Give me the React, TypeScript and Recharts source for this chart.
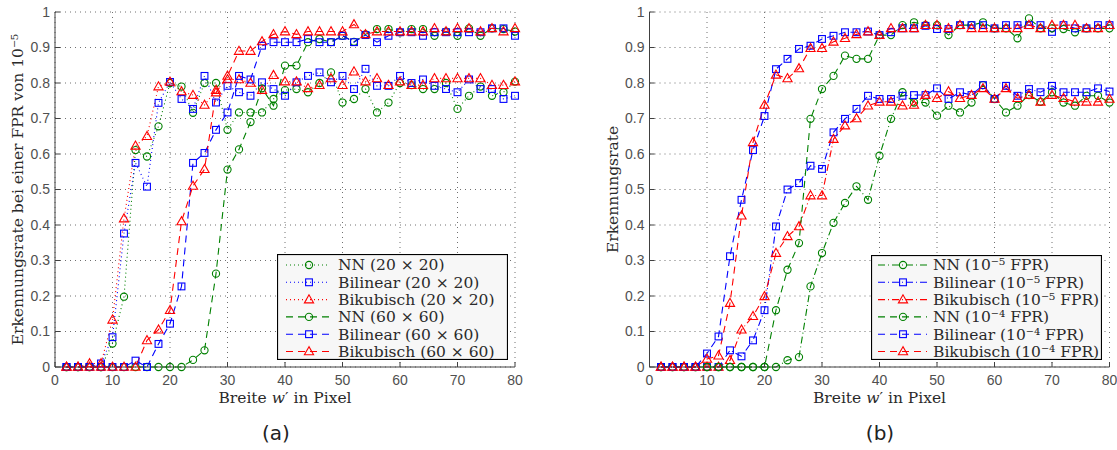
import React from 'react';
import { LineChart, Line, XAxis, YAxis, CartesianGrid, Legend } from 'recharts';

const xValues = [2, 4, 6, 8, 10, 12, 14, 16, 18, 20, 22, 24, 26, 28, 30, 32, 34, 36, 38, 40, 42, 44, 46, 48, 50, 52, 54, 56, 58, 60, 62, 64, 66, 68, 70, 72, 74, 76, 78, 80];
const xTicks = [0, 10, 20, 30, 40, 50, 60, 70, 80];
const yTicks = [0, 0.1, 0.2, 0.3, 0.4, 0.5, 0.6, 0.7, 0.8, 0.9, 1];

// Panel (a)
const aNN20 = [0, 0, 0, 0, 0.066, 0.198, 0.611, 0.593, 0.678, 0.80, 0.79, 0.716, 0.80, 0.80, 0.668, 0.717, 0.717, 0.717, 0.755, 0.78, 0.783, 0.774, 0.80, 0.83, 0.745, 0.755, 0.783, 0.717, 0.745, 0.80, 0.794, 0.783, 0.783, 0.80, 0.727, 0.764, 0.79, 0.764, 0.774, 0.804];
const aBi20 = [0, 0, 0, 0.01, 0.084, 0.376, 0.575, 0.508, 0.744, 0.803, 0.755, 0.727, 0.82, 0.745, 0.792, 0.774, 0.764, 0.802, 0.783, 0.764, 0.802, 0.82, 0.83, 0.802, 0.82, 0.783, 0.84, 0.792, 0.792, 0.82, 0.80, 0.81, 0.792, 0.783, 0.774, 0.81, 0.783, 0.783, 0.755, 0.764];
const aBk20 = [0, 0, 0.01, 0.01, 0.133, 0.418, 0.623, 0.65, 0.79, 0.803, 0.776, 0.766, 0.738, 0.78, 0.81, 0.81, 0.80, 0.78, 0.822, 0.804, 0.804, 0.785, 0.794, 0.813, 0.794, 0.832, 0.804, 0.813, 0.794, 0.804, 0.794, 0.794, 0.813, 0.813, 0.813, 0.813, 0.813, 0.794, 0.794, 0.804];
const aNN60 = [0, 0, 0, 0, 0, 0, 0, 0, 0, 0, 0, 0.02, 0.047, 0.263, 0.556, 0.613, 0.69, 0.785, 0.736, 0.849, 0.849, 0.915, 0.924, 0.915, 0.933, 0.916, 0.937, 0.952, 0.952, 0.943, 0.952, 0.952, 0.933, 0.945, 0.933, 0.954, 0.933, 0.954, 0.952, 0.945];
const aBi60 = [0, 0, 0, 0, 0, 0, 0.018, 0, 0.065, 0.122, 0.227, 0.575, 0.603, 0.668, 0.717, 0.82, 0.81, 0.905, 0.915, 0.915, 0.915, 0.924, 0.915, 0.915, 0.933, 0.915, 0.935, 0.915, 0.933, 0.943, 0.943, 0.933, 0.943, 0.943, 0.943, 0.943, 0.943, 0.954, 0.954, 0.933];
const aBk60 = [0, 0, 0, 0, 0, 0, 0, 0.075, 0.105, 0.16, 0.41, 0.51, 0.557, 0.773, 0.82, 0.89, 0.89, 0.917, 0.937, 0.945, 0.937, 0.945, 0.945, 0.945, 0.945, 0.965, 0.937, 0.945, 0.945, 0.945, 0.945, 0.945, 0.954, 0.945, 0.954, 0.954, 0.945, 0.954, 0.945, 0.954];

// Panel (b)
const bNN5 = [0, 0, 0, 0, 0, 0, 0, 0, 0, 0, 0, 0.019, 0.028, 0.227, 0.321, 0.406, 0.462, 0.509, 0.471, 0.595, 0.699, 0.774, 0.745, 0.745, 0.708, 0.736, 0.717, 0.745, 0.794, 0.755, 0.717, 0.736, 0.766, 0.747, 0.774, 0.745, 0.736, 0.764, 0.764, 0.745];
const bBi5 = [0, 0, 0, 0, 0, 0, 0.047, 0.03, 0.075, 0.16, 0.396, 0.50, 0.518, 0.567, 0.558, 0.661, 0.699, 0.727, 0.764, 0.755, 0.755, 0.764, 0.766, 0.766, 0.785, 0.755, 0.774, 0.766, 0.794, 0.755, 0.792, 0.764, 0.783, 0.774, 0.792, 0.774, 0.774, 0.774, 0.785, 0.776];
const bBk5 = [0, 0, 0, 0, 0, 0, 0.019, 0.105, 0.143, 0.199, 0.321, 0.368, 0.396, 0.483, 0.483, 0.642, 0.68, 0.70, 0.736, 0.747, 0.747, 0.736, 0.738, 0.766, 0.757, 0.776, 0.757, 0.766, 0.785, 0.755, 0.785, 0.757, 0.766, 0.747, 0.766, 0.757, 0.747, 0.747, 0.747, 0.755];
const bNN4 = [0, 0, 0, 0, 0, 0, 0, 0, 0, 0, 0.16, 0.274, 0.349, 0.699, 0.783, 0.82, 0.877, 0.868, 0.868, 0.935, 0.935, 0.963, 0.971, 0.963, 0.963, 0.935, 0.963, 0.963, 0.971, 0.954, 0.954, 0.926, 0.982, 0.954, 0.954, 0.952, 0.943, 0.954, 0.954, 0.954];
const bBi4 = [0, 0, 0, 0, 0.038, 0.086, 0.312, 0.471, 0.611, 0.707, 0.839, 0.868, 0.896, 0.905, 0.924, 0.933, 0.943, 0.943, 0.945, 0.935, 0.943, 0.954, 0.954, 0.961, 0.952, 0.952, 0.963, 0.963, 0.963, 0.954, 0.963, 0.963, 0.963, 0.963, 0.944, 0.963, 0.954, 0.954, 0.963, 0.963];
const bBk4 = [0, 0, 0, 0, 0.0225, 0.032, 0.18, 0.426, 0.633, 0.738, 0.823, 0.813, 0.841, 0.898, 0.898, 0.916, 0.926, 0.937, 0.945, 0.935, 0.954, 0.954, 0.954, 0.963, 0.963, 0.954, 0.963, 0.954, 0.954, 0.954, 0.954, 0.954, 0.963, 0.954, 0.963, 0.963, 0.963, 0.954, 0.954, 0.963];

const aLabels = ['NN (20 × 20)', 'Bilinear (20 × 20)', 'Bikubisch (20 × 20)', 'NN (60 × 60)', 'Bilinear (60 × 60)', 'Bikubisch (60 × 60)'];
const bLabels = ['NN (10⁻⁵ FPR)', 'Bilinear (10⁻⁵ FPR)', 'Bikubisch (10⁻⁵ FPR)', 'NN (10⁻⁴ FPR)', 'Bilinear (10⁻⁴ FPR)', 'Bikubisch (10⁻⁴ FPR)'];

const GREEN = '#008000';
const BLUE = '#0000ff';
const RED = '#ff0000';
const DOTTED = '1 3';
const DASHED = '7 5';
const DASHDOT = '7 3 1 3';
const SERIF = '"DejaVu Serif", serif';
const SANS = '"Liberation Sans", Arial, sans-serif';
const TEXT = '#2a2a2a';
const AXIS = '#404040';

type Shape = 'o' | 's' | 't';
interface Series { key: string; label: string; color: string; shape: Shape; dash: string; values: number[] }

const seriesA: Series[] = [
  { key: 'nn20', label: aLabels[0], color: GREEN, shape: 'o', dash: DOTTED, values: aNN20 },
  { key: 'bi20', label: aLabels[1], color: BLUE, shape: 's', dash: DOTTED, values: aBi20 },
  { key: 'bk20', label: aLabels[2], color: RED, shape: 't', dash: DOTTED, values: aBk20 },
  { key: 'nn60', label: aLabels[3], color: GREEN, shape: 'o', dash: DASHED, values: aNN60 },
  { key: 'bi60', label: aLabels[4], color: BLUE, shape: 's', dash: DASHED, values: aBi60 },
  { key: 'bk60', label: aLabels[5], color: RED, shape: 't', dash: DASHED, values: aBk60 },
];
const seriesB: Series[] = [
  { key: 'nn5', label: bLabels[0], color: GREEN, shape: 'o', dash: DASHDOT, values: bNN5 },
  { key: 'bi5', label: bLabels[1], color: BLUE, shape: 's', dash: DASHDOT, values: bBi5 },
  { key: 'bk5', label: bLabels[2], color: RED, shape: 't', dash: DASHDOT, values: bBk5 },
  { key: 'nn4', label: bLabels[3], color: GREEN, shape: 'o', dash: DASHED, values: bNN4 },
  { key: 'bi4', label: bLabels[4], color: BLUE, shape: 's', dash: DASHED, values: bBi4 },
  { key: 'bk4', label: bLabels[5], color: RED, shape: 't', dash: DASHED, values: bBk4 },
];

function Marker({ shape, cx, cy, color }: { shape: Shape; cx: number; cy: number; color: string }) {
  const common = { fill: 'none', stroke: color, strokeWidth: 1.1, strokeDasharray: 'none' };
  if (shape === 'o') return <circle cx={cx} cy={cy} r={3.6} {...common} />;
  if (shape === 's') return <rect x={cx - 3.4} y={cy - 3.4} width={6.8} height={6.8} {...common} />;
  return <polygon points={`${cx},${cy - 4.8} ${cx - 4.6},${cy + 3.3} ${cx + 4.6},${cy + 3.3}`} {...common} />;
}

const makeDot = (shape: Shape, color: string) => (props: any) => {
  const { cx, cy, index } = props;
  const k = `m${index}`;
  if (typeof cx !== 'number' || typeof cy !== 'number' || isNaN(cy)) return <g key={k} />;
  return <Marker key={k} shape={shape} cx={cx} cy={cy} color={color} />;
};

function LegendBox({ series, width, height, rowTop, lineX1, lineX2, markX, textX }: any) {
  return (
    <svg width={width} height={height} style={{ display: 'block' }}>
      <rect x={0.5} y={0.5} width={width - 1} height={height - 1} fill="#f7f7f7" stroke="#000" strokeWidth={1.2} />
      {series.map((s: Series, i: number) => {
        const y = rowTop + i * 17.3;
        return (
          <g key={s.key}>
            <line x1={lineX1} x2={lineX2} y1={y} y2={y} stroke={s.color} strokeWidth={1.1} strokeDasharray={s.dash} />
            <Marker shape={s.shape} cx={markX} cy={y} color={s.color} />
            <text x={textX} y={y} dy="0.35em" fontFamily={SERIF} fontSize={15.5} fill={TEXT}>{s.label}</text>
          </g>
        );
      })}
    </svg>
  );
}

const xLabel = (props: any) => {
  const vb = props.viewBox || { x: 0, y: 0, width: 0 };
  const x = vb.x + vb.width / 2;
  const y = vb.y + 31;
  return (
    <text x={x} y={y} dy="0.35em" textAnchor="middle" fontFamily={SERIF} fontSize={15.5} fill={TEXT}>
      <tspan>Breite </tspan>
      <tspan fontStyle="italic">w</tspan>
      <tspan>′ in Pixel</tspan>
    </text>
  );
};

const makeYLabel = (text: string) => (props: any) => {
  const vb = props.viewBox || { x: 0, y: 0, height: 0 };
  const x = vb.x + 3;
  const y = vb.y + vb.height / 2;
  return (
    <text x={x} y={y} dy="0.35em" textAnchor="middle" transform={`rotate(-90 ${x} ${y})`} fontFamily={SERIF} fontSize={15.5} fill={TEXT}>
      {text}
    </text>
  );
};

const yFmt = (v: number) => (v === 0 ? '0' : v === 1 ? '1' : v.toFixed(1));
const tickStyle = { fill: '#505050', fontSize: 14, fontFamily: SANS };

function Panel({ series, width, marginLeft, marginRight, yLabel, legend }: any) {
  const data = xValues.map((x, i) => {
    const row: any = { x };
    series.forEach((s: Series) => { row[s.key] = s.values[i]; });
    return row;
  });
  return (
    <LineChart width={width} height={450} data={data} margin={{ top: 12, right: marginRight, bottom: 53, left: marginLeft }}>
      <CartesianGrid stroke="#707070" strokeDasharray="1 4" strokeWidth={1} />
      <XAxis dataKey="x" type="number" domain={[0, 80]} ticks={xTicks} height={30} tick={tickStyle}
        tickSize={-5} tickMargin={13} axisLine={{ stroke: AXIS }} tickLine={{ stroke: AXIS }} label={xLabel} />
      <XAxis xAxisId="top" orientation="top" dataKey="x" type="number" domain={[0, 80]} ticks={xTicks} height={0}
        tick={false} tickSize={-5} axisLine={{ stroke: AXIS }} tickLine={{ stroke: AXIS }} />
      <YAxis type="number" domain={[0, 1]} ticks={yTicks} width={40} tick={tickStyle} tickFormatter={yFmt}
        tickSize={-5} tickMargin={10} axisLine={{ stroke: AXIS }} tickLine={{ stroke: AXIS }} label={makeYLabel(yLabel)} />
      <YAxis yAxisId="right" orientation="right" type="number" domain={[0, 1]} ticks={yTicks} width={0}
        tick={false} tickSize={-5} axisLine={{ stroke: AXIS }} tickLine={{ stroke: AXIS }} />
      {series.map((s: Series) => (
        <Line key={s.key} dataKey={s.key} type="linear" stroke={s.color} strokeWidth={1.1} strokeDasharray={s.dash}
          dot={makeDot(s.shape, s.color)} activeDot={false} isAnimationActive={false} />
      ))}
      <Legend verticalAlign="middle" align="center" layout="horizontal"
        wrapperStyle={{ left: legend.left, top: legend.top, width: legend.width, height: legend.height, margin: 0, padding: 0 }}
        content={() => <LegendBox series={series} width={legend.width} height={legend.height} rowTop={legend.rowTop}
          lineX1={legend.lineX1} lineX2={legend.lineX2} markX={legend.markX} textX={legend.textX} />} />
    </LineChart>
  );
}

export default function App() {
  return (
    <div style={{ position: 'absolute', left: 0, top: 0, width: 1117, height: 450, background: '#fff', overflow: 'hidden' }}>
      <div style={{ position: 'absolute', left: 0, top: 0 }}>
        <Panel series={seriesA} width={560} marginLeft={15} marginRight={45}
          yLabel="Erkennungsrate bei einer FPR von 10⁻⁵"
          legend={{ left: 277, top: 254, width: 231, height: 106, rowTop: 11, lineX1: 9, lineX2: 53, markX: 32, textX: 61 }} />
      </div>
      <div style={{ position: 'absolute', left: 560, top: 0 }}>
        <Panel series={seriesB} width={557} marginLeft={49.5} marginRight={7.5}
          yLabel="Erkennungsrate"
          legend={{ left: 311, top: 255, width: 231, height: 105, rowTop: 10, lineX1: 7, lineX2: 56, markX: 32, textX: 62 }} />
      </div>
      <div style={{ position: 'absolute', left: 236, top: 419, width: 80, textAlign: 'center', fontFamily: '"DejaVu Sans", sans-serif', fontSize: 20, color: '#222', lineHeight: '28px' }}>(a)</div>
      <div style={{ position: 'absolute', left: 840, top: 419, width: 80, textAlign: 'center', fontFamily: '"DejaVu Sans", sans-serif', fontSize: 20, color: '#222', lineHeight: '28px' }}>(b)</div>
    </div>
  );
}
